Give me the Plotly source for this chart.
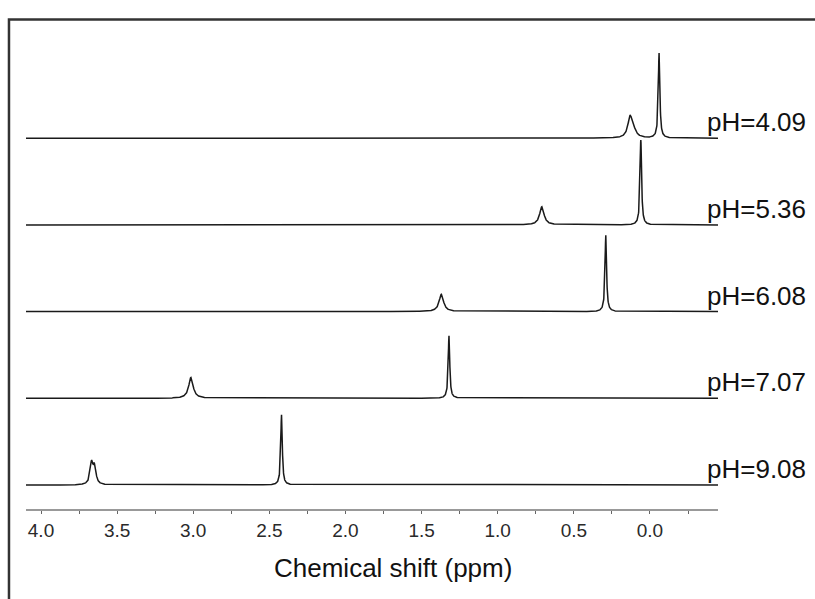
import numpy as np
import plotly.graph_objects as go

# ---- data ----
ph_labels = ["pH=4.09", "pH=5.36", "pH=6.08", "pH=7.07", "pH=9.08"]
offsets = [4, 3, 2, 1, 0]
# peak positions (ppm), heights (relative units), widths (FWHM, ppm)
peak_pos = [
    [-0.06, 0.13, 0.105],
    [0.06, 0.71],
    [0.29, 1.37],
    [1.32, 3.015],
    [2.42, 3.668, 3.648],
]
peak_height = [
    [0.98, 0.24, 0.06],
    [0.98, 0.21],
    [0.88, 0.20],
    [0.72, 0.24],
    [0.81, 0.24, 0.20],
]
peak_fwhm = [
    [0.012, 0.035, 0.04],
    [0.012, 0.035],
    [0.012, 0.035],
    [0.012, 0.035],
    [0.012, 0.022, 0.022],
]
tick_vals = [0.0, 0.5, 1.0, 1.5, 2.0, 2.5, 3.0, 3.5, 4.0]
tick_text = ["0.0", "0.5", "1.0", "1.5", "2.0", "2.5", "3.0", "3.5", "4.0"]
x_title = "Chemical shift (ppm)"

ppm = np.arange(-0.45, 4.101, 0.001)

fig = go.Figure()
for lab, off, pos, hts, fw in zip(ph_labels, offsets, peak_pos, peak_height, peak_fwhm):
    y = np.zeros_like(ppm)
    for p, h, w in zip(pos, hts, fw):
        g = w / 2.0
        y += h / (1.0 + ((ppm - p) / g) ** 2)
    fig.add_trace(go.Scatter(x=ppm, y=y + off, mode="lines",
                             line=dict(color="#1a1a1a", width=1.5),
                             name=lab, showlegend=False, hoverinfo="skip"))
    fig.add_annotation(x=-0.361, y=off + 0.185, xref="x", yref="y", text=lab,
                       showarrow=False, xanchor="left", yanchor="middle",
                       font=dict(family="Liberation Sans, Arial", size=26, color="#111"))

fig.add_annotation(x=0.530, y=-0.121, xref="paper", yref="paper", text=x_title,
                   showarrow=False, xanchor="center", yanchor="middle",
                   font=dict(family="Liberation Sans, Arial", size=26, color="#111"))

# outer frame (extends past the right and bottom edges)
fig.add_shape(type="rect", xref="paper", yref="paper",
              x0=-0.0246, y0=-0.3, x1=1.2, y1=1.001,
              line=dict(color="#333", width=2.5), fillcolor="rgba(0,0,0,0)")

fig.update_xaxes(range=[4.0985, -0.447], tickvals=tick_vals, ticktext=tick_text,
                 showgrid=False, zeroline=False, showline=True,
                 linecolor="#999", linewidth=1.5,
                 ticks="outside", ticklen=3, tickcolor="#666", tickwidth=1,
                 minor=dict(dtick=0.25, ticks="outside", ticklen=3, tickcolor="#666", showgrid=False),
                 tickfont=dict(family="Liberation Sans, Arial", size=19, color="#2a2a2a"))
fig.update_yaxes(range=[-0.277, 5.364], visible=False)

fig.update_layout(width=815, height=599,
                  margin=dict(l=26, r=97, t=20, b=90),
                  paper_bgcolor="white", plot_bgcolor="white")

fig.write_html("out.html")
